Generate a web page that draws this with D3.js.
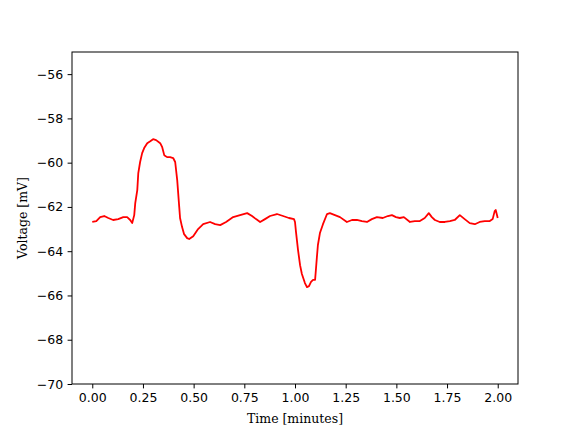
<!DOCTYPE html>
<html>
<head>
<meta charset="utf-8">
<script src="https://cdn.jsdelivr.net/npm/d3@7"></script>
<style>
  html, body { margin: 0; padding: 0; background: #fff; }
  svg { display: block; }
</style>
</head>
<body>
<svg id="chart" width="576" height="432"></svg>
<script>
// Data
const timeMinutes = [0.000,0.020,0.039,0.059,0.079,0.103,0.128,0.153,0.172,0.187,0.197,0.207,0.212,0.222,0.227,0.236,0.246,0.256,0.271,0.286,0.300,0.315,0.335,0.345,0.355,0.369,0.384,0.399,0.409,0.419,0.429,0.433,0.443,0.453,0.468,0.478,0.498,0.522,0.547,0.581,0.606,0.631,0.660,0.695,0.729,0.764,0.788,0.808,0.828,0.852,0.877,0.911,0.941,0.970,0.995,1.000,1.005,1.015,1.025,1.034,1.049,1.059,1.069,1.079,1.089,1.099,1.103,1.108,1.113,1.123,1.138,1.158,1.172,1.197,1.222,1.256,1.281,1.305,1.330,1.355,1.379,1.404,1.433,1.458,1.478,1.498,1.517,1.537,1.567,1.591,1.616,1.640,1.660,1.675,1.690,1.714,1.739,1.764,1.788,1.813,1.837,1.862,1.887,1.911,1.936,1.961,1.975,1.985,1.990,1.995,2.000];
const voltageMV = [-62.68,-62.64,-62.46,-62.41,-62.50,-62.59,-62.55,-62.46,-62.46,-62.59,-62.73,-62.37,-61.83,-61.24,-60.47,-59.97,-59.57,-59.34,-59.12,-59.03,-58.94,-58.98,-59.12,-59.30,-59.66,-59.75,-59.75,-59.79,-59.97,-60.79,-62.01,-62.50,-62.91,-63.23,-63.41,-63.45,-63.32,-63.00,-62.78,-62.68,-62.78,-62.82,-62.68,-62.46,-62.37,-62.28,-62.41,-62.55,-62.68,-62.55,-62.41,-62.32,-62.41,-62.50,-62.55,-62.68,-63.14,-63.95,-64.63,-65.03,-65.44,-65.62,-65.58,-65.39,-65.30,-65.30,-64.85,-64.27,-63.72,-63.18,-62.78,-62.32,-62.28,-62.37,-62.46,-62.68,-62.59,-62.59,-62.64,-62.68,-62.55,-62.46,-62.50,-62.41,-62.37,-62.46,-62.50,-62.46,-62.68,-62.64,-62.64,-62.50,-62.28,-62.46,-62.59,-62.68,-62.68,-62.64,-62.59,-62.37,-62.55,-62.73,-62.78,-62.68,-62.64,-62.64,-62.55,-62.19,-62.14,-62.32,-62.50];
const xTicks = [0.00,0.25,0.50,0.75,1.00,1.25,1.50,1.75,2.00];
const yTicks = [-70,-68,-66,-64,-62,-60,-58,-56];
const xDomain = [-0.1, 2.1];
const yDomain = [-70, -55];

const svg = d3.select("#chart");
const mLeft = 72, mRight = 518, mTop = 52, mBottom = 384;

const x = d3.scaleLinear().domain(xDomain).range([mLeft, mRight]);
const y = d3.scaleLinear().domain(yDomain).range([mBottom, mTop]);

const pts = timeMinutes.map((t, i) => [t, voltageMV[i]]);
const line = d3.line().x(d => x(d[0])).y(d => y(d[1]));

svg.append("path")
  .datum(pts)
  .attr("fill", "none")
  .attr("stroke", "#ff0000")
  .attr("stroke-width", 1.8)
  .attr("stroke-linejoin", "round")
  .attr("d", line);

const xAxis = d3.axisBottom(x).tickValues(xTicks).tickFormat(d3.format(".2f")).tickSizeOuter(0).tickSize(4.4).tickPadding(4.4);
const yAxis = d3.axisLeft(y).tickValues(yTicks).tickFormat(d3.format("d")).tickSizeOuter(0).tickSize(4.4).tickPadding(4.4);

const gx = svg.append("g").attr("transform", `translate(0,${mBottom})`).call(xAxis);
const gy = svg.append("g").attr("transform", `translate(${mLeft},0)`).call(yAxis);
[gx, gy].forEach(g => {
  g.select(".domain").remove();
  g.selectAll("text").attr("font-family", "DejaVu Sans").attr("font-size", 12.5).attr("fill", "#000");
  g.selectAll("line").attr("stroke", "#000").attr("stroke-width", 1);
});

svg.append("rect")
  .attr("x", mLeft).attr("y", mTop)
  .attr("width", mRight - mLeft).attr("height", mBottom - mTop)
  .attr("fill", "none").attr("stroke", "#000").attr("stroke-width", 1);

svg.append("text")
  .attr("x", (mLeft + mRight) / 2).attr("y", 423)
  .attr("text-anchor", "middle")
  .attr("font-family", "DejaVu Serif").attr("font-size", 12.5)
  .text("Time [minutes]");

svg.append("text")
  .attr("transform", `translate(27,${(mTop + mBottom) / 2}) rotate(-90)`)
  .attr("text-anchor", "middle")
  .attr("font-family", "DejaVu Serif").attr("font-size", 12.5)
  .text("Voltage [mV]");
</script>
</body>
</html>
